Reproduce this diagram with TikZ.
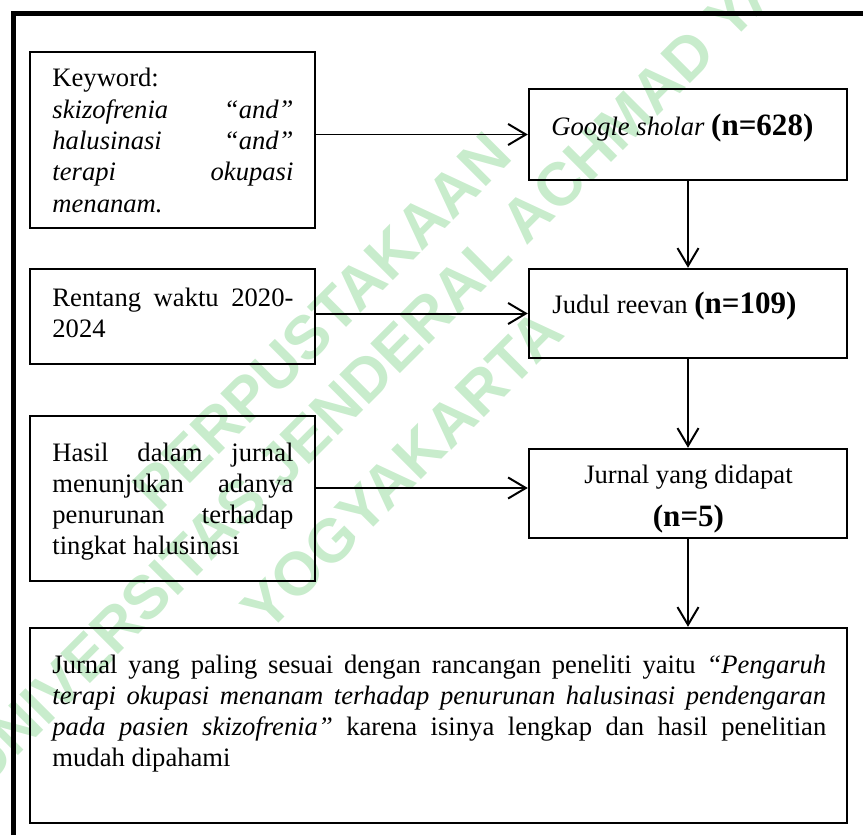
\documentclass[tikz,border=0pt]{standalone}
\usepackage{fontspec}
\setmainfont{Liberation Serif}
\newfontfamily\wmfont{Liberation Sans}
\usetikzlibrary{arrows.meta}
\definecolor{wmgreen}{RGB}{200,236,204}
\newcommand\jl[1]{\hbox to\linewidth{\spaceskip=0.25em plus 1fil minus 0.05em\relax #1}}
\newcommand\lj[1]{\hbox{#1}}
\newcommand\cj[1]{\hbox to\linewidth{\hfil #1\hfil}}
\newcommand\lines[2]{\vtop{\hsize=#1\relax\linewidth=#1\relax #2}}
\newcommand\mybox[5]{\node[box, minimum width={(#4-#2)*0.451pt}, minimum height={(#5-#3)*0.451pt}] (#1) at ({(#2+#4)/2},{(#3+#5)/2}) {};}
\begin{document}
\begin{tikzpicture}[x=0.451pt,y=-0.451pt,
  box/.style={draw, line width=1.1pt, inner sep=0pt},
  txt/.style={inner sep=0pt, anchor=base west, font=\fontsize{12}{14.1}\selectfont},
  arr/.style={line width=0.9pt, -{Straight Barb[length=8pt,width=9.5pt]}},
  wmark/.style={text=wmgreen, inner sep=0pt, rotate=45, font=\wmfont\bfseries\fontsize{27.5}{32}\selectfont},
  frame/.style={line width=2pt}]
\useasboundingbox (0,0) rectangle (863,835);
% watermark
\node[wmark] (wm1) at (322,322) {PERPUSTAKAAN};
\node[wmark] (wm2) at (392,352) {UNIVERSITAS JENDERAL ACHMAD YANI};
\node[wmark] (wm3) at (402,470) {YOGYAKARTA};
% outer frame
\coordinate (fa) at (13.5,835);
\coordinate (fb) at (13.5,13.5);
\coordinate (fc) at (863,13.5);
\draw[frame] (fa) -- (fb) -- (fc);
% boxes
\mybox{k}{30}{52}{315}{228}
\mybox{g}{529}{89}{847}{180}
\mybox{r}{30}{269}{315}{364}
\mybox{j}{529}{269}{847}{358}
\mybox{h}{30}{416}{315}{581}
\mybox{jd}{529}{449}{847}{538}
\mybox{f}{30}{628}{847}{823}
% texts
\node[txt] (kt) at (52,87) {\lines{108.7pt}{%
  \lj{Keyword:}%
  \jl{\textit{skizofrenia} \textit{“and”}}%
  \jl{\textit{halusinasi} \textit{“and”}}%
  \jl{\textit{terapi} \textit{okupasi}}%
  \lj{\textit{menanam.}}}};
\node[txt] (rt) at (52,306) {\lines{108.7pt}{%
  \jl{Rentang waktu 2020-}%
  \lj{2024}}};
\node[txt] (ht) at (52,461) {\lines{108.7pt}{%
  \jl{Hasil dalam jurnal}%
  \jl{menunjukan adanya}%
  \jl{penurunan terhadap}%
  \lj{tingkat halusinasi}}};
\node[txt] (gt) at (551,135) {\textit{Google sholar} {\fontsize{14}{16}\selectfont\bfseries(n=628)}};
\node[txt] (jt) at (552,313) {Judul reevan {\fontsize{14}{16}\selectfont\bfseries(n=109)}};
\node[txt] (jdt) at (551,483) {\lines{123.6pt}{%
  \cj{Jurnal yang didapat}%
  {\fontsize{14}{19.4}\selectfont\bfseries\cj{(n=5)}}}};
\node[txt] (ft) at (52,673) {\lines{349pt}{%
  \jl{Jurnal yang paling sesuai dengan rancangan peneliti yaitu \textit{“Pengaruh}}%
  \jl{\textit{terapi okupasi menanam terhadap penurunan halusinasi pendengaran}}%
  \jl{\textit{pada pasien skizofrenia”} karena isinya lengkap dan hasil penelitian}%
  \lj{mudah dipahami}}};
% connectors
\draw[arr] (k.east |- g.west) -- (g.west);
\draw[arr] (r.east |- j.west) -- (j.west);
\draw[arr] (h.east |- 0,488) -- (jd.west |- 0,488);
\draw[arr] (g.south) -- (j.north);
\draw[arr] (j.south) -- (jd.north);
\draw[arr] (jd.south) -- (jd.south |- f.north);
\end{tikzpicture}
\end{document}
